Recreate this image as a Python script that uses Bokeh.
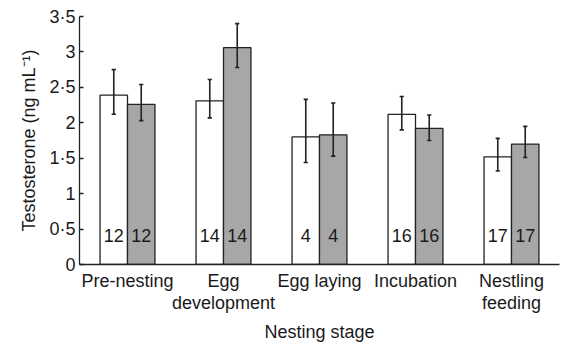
from bokeh.plotting import figure
from bokeh.models import FixedTicker
from bokeh.core.properties import value
from bokeh.embed import file_html
from bokeh.resources import INLINE

# ---- data ----
stages = ["Pre-nesting", "Egg\ndevelopment", "Egg laying", "Incubation", "Nestling\nfeeding"]
white_mean = [2.39, 2.31, 1.80, 2.12, 1.52]
white_upper = [2.75, 2.61, 2.33, 2.37, 1.78]
white_lower = [2.12, 2.07, 1.44, 1.90, 1.32]
grey_mean = [2.26, 3.06, 1.83, 1.92, 1.70]
grey_upper = [2.54, 3.40, 2.28, 2.11, 1.95]
grey_lower = [2.03, 2.78, 1.53, 1.75, 1.51]
sample_n = ["12", "14", "4", "16", "17"]
y_ticks = [0, 0.5, 1, 1.5, 2, 2.5, 3, 3.5]
y_tick_labels = ["0", "0·5", "1", "1·5", "2", "2·5", "3", "3·5"]

FONT = "Liberation Sans"
TXT = "#1a1a1a"
BW = 0.286
CAP = 0.022

centers = [i + 0.5 for i in range(len(stages))]
xw = [c - BW / 2 for c in centers]
xg = [c + BW / 2 for c in centers]

p = figure(width=563, height=346, x_range=(0, 5), y_range=(0, 3.5),
           output_backend="svg", toolbar_location=None,
           min_border_left=79, min_border_right=4, min_border_top=16, min_border_bottom=82)
p.outline_line_color = None
p.grid.grid_line_color = None
p.background_fill_color = "white"

p.vbar(x=xw, top=white_mean, width=BW, bottom=0, fill_color="white",
       line_color="#222222", line_width=1.3)
p.vbar(x=xg, top=grey_mean, width=BW, bottom=0, fill_color="#a7a7a7",
       line_color="#222222", line_width=1.3)

for xs, lo, hi in ((xw, white_lower, white_upper), (xg, grey_lower, grey_upper)):
    p.segment(x0=xs, y0=lo, x1=xs, y1=hi, line_color="#222222", line_width=1.6)
    p.segment(x0=[x - CAP for x in xs], y0=lo, x1=[x + CAP for x in xs], y1=lo,
              line_color="#222222", line_width=1.6)
    p.segment(x0=[x - CAP for x in xs], y0=hi, x1=[x + CAP for x in xs], y1=hi,
              line_color="#222222", line_width=1.6)

for xs in (xw, xg):
    p.text(x=xs, y=[0.41] * len(xs), text=sample_n, text_align="center",
           text_baseline="middle", text_font=value(FONT), text_font_size="18px",
           text_color=TXT)

# axes
p.xaxis.ticker = FixedTicker(ticks=centers)
p.xaxis.major_label_overrides = {c: s for c, s in zip(centers, stages)}
p.xaxis.minor_tick_line_color = None
p.xaxis.axis_label = "Nesting stage"
p.xaxis.major_label_standoff = 0
p.xaxis.axis_label_standoff = 6
p.xaxis.major_label_text_line_height = 1.1

p.yaxis.ticker = FixedTicker(ticks=y_ticks)
p.yaxis.major_label_overrides = {t: s for t, s in zip(y_ticks, y_tick_labels)}
p.yaxis.major_tick_in = 4
p.yaxis.major_tick_out = 0
p.yaxis.minor_tick_line_color = None
p.yaxis.axis_label = "Testosterone (ng mL⁻¹)"
p.yaxis.major_label_standoff = 4
p.yaxis.axis_label_standoff = 7

for ax in (p.xaxis, p.yaxis):
    ax.axis_line_color = "#222222"
    ax.axis_line_width = 1.3
    ax.major_tick_line_width = 1.3
    ax.major_label_text_font = FONT
    ax.major_label_text_font_size = "18px"
    ax.major_label_text_color = TXT
    ax.axis_label_text_font = FONT
    ax.axis_label_text_font_size = "18px"
    ax.axis_label_text_font_style = "normal"
    ax.axis_label_text_color = TXT
p.yaxis.major_tick_line_color = "#222222"
p.xaxis.major_tick_line_color = None

open("out.html", "w").write(file_html(p, INLINE))
